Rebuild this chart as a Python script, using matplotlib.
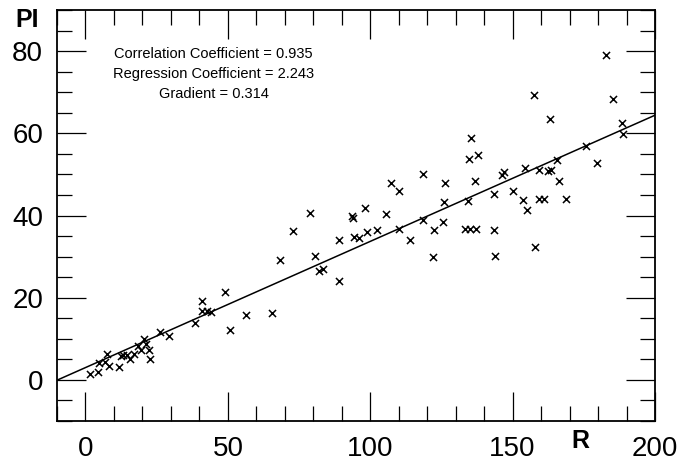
import matplotlib
matplotlib.use("Agg")
import matplotlib.pyplot as plt
from matplotlib.ticker import MultipleLocator
import numpy as np

plt.rcParams['font.family'] = ['Liberation Sans', 'DejaVu Sans']

# Data
r_values = [1.6, 4.3, 4.9, 7.0, 7.6, 8.2, 11.9, 12.5, 13.3, 14.6, 15.5, 16.9, 18.4, 19.6,
            20.7, 21.3, 22.2, 22.6, 26.2, 29.5, 38.3, 40.9, 41.0, 42.5, 44.1, 49.1, 50.6,
            56.3, 65.6, 68.2, 72.9, 78.9, 80.5, 82.0, 83.5, 89.1, 89.1, 93.7, 93.9, 94.2,
            96.0, 98.3, 98.9, 102.4, 105.6, 107.4, 110.1, 110.2, 113.8, 118.5, 118.5, 121.9,
            122.4, 125.7, 126.0, 126.4, 133.2, 134.3, 134.8, 134.9, 135.5, 136.7, 137.1,
            137.8, 143.4, 143.4, 143.9, 146.2, 147.0, 150.3, 153.5, 154.3, 155.2, 157.5,
            157.8, 159.1, 159.4, 160.9, 162.4, 163.0, 163.4, 165.6, 166.3, 168.9, 175.8,
            179.5, 182.9, 185.4, 188.5, 188.9]
pi_values = [1.5, 2.0, 4.0, 4.3, 6.2, 3.4, 3.2, 5.9, 6.1, 6.1, 5.1, 6.2, 8.3, 7.2,
             9.9, 8.7, 7.2, 5.1, 11.6, 10.8, 13.9, 19.2, 16.7, 16.7, 16.5, 21.5, 12.1,
             15.7, 16.3, 29.2, 36.3, 40.5, 30.1, 26.4, 27.0, 34.1, 24.1, 40.0, 39.3, 34.8,
             34.5, 41.8, 36.0, 36.5, 40.4, 47.8, 46.0, 36.8, 34.1, 50.0, 38.8, 30.0,
             36.5, 38.4, 43.2, 48.0, 36.8, 43.6, 53.7, 36.6, 58.9, 48.3, 36.8,
             54.7, 45.2, 36.5, 30.1, 49.8, 50.7, 45.9, 43.7, 51.5, 41.4, 69.3,
             32.4, 51.0, 44.0, 44.0, 50.8, 63.4, 51.1, 53.5, 48.4, 44.0, 56.9,
             52.8, 79.0, 68.4, 62.5, 59.8]

line_intercept = 3.0
line_slope = 0.307

stats_lines = ["Correlation Coefficient = 0.935",
               "Regression Coefficient = 2.243",
               "Gradient = 0.314"]

x_ticks = [0, 50, 100, 150, 200]
y_ticks = [0, 20, 40, 60, 80]
x_label = "R"
y_label = "PI"

fig = plt.figure(figsize=(6.82, 4.63), dpi=100)
ax = fig.add_axes([0.0836, 0.0907, 0.8768, 0.8877])
ax.set_xlim(-10, 200)
ax.set_ylim(-10, 90)

ax.scatter(r_values, pi_values, marker='x', s=26, color='black', linewidths=1.1, zorder=3)

xl = np.array(ax.get_xlim())
ax.plot(xl, line_intercept + line_slope * xl, color='black', lw=1.1, zorder=2)

ax.xaxis.set_major_locator(MultipleLocator(50))
ax.xaxis.set_minor_locator(MultipleLocator(10))
ax.yaxis.set_major_locator(MultipleLocator(20))
ax.yaxis.set_minor_locator(MultipleLocator(5))
ax.set_xticks(x_ticks)
ax.set_yticks(y_ticks)
ax.set_xticklabels([str(t) for t in x_ticks])
ax.set_yticklabels([str(t) for t in y_ticks])

ax.tick_params(which='both', direction='in', top=True, right=True, width=0.9, color='black')
ax.tick_params(which='major', length=21, labelsize=20, pad=10)
ax.tick_params(which='minor', length=10.5)
ax.tick_params(axis='x', which='major', pad=11)
for s in ax.spines.values():
    s.set_linewidth(1.3)

for i, line in enumerate(stats_lines):
    ax.text(45, 79.3 - i * 4.9, line, ha='center', va='center', fontsize=10.5)

fig.text(27 / 682, 1 - 20 / 463, y_label, ha='center', va='center', fontsize=18, fontweight='bold')
fig.text(580 / 682, 1 - 441 / 463, x_label, ha='center', va='center', fontsize=18, fontweight='bold')

fig.savefig("out.png", dpi=100)
